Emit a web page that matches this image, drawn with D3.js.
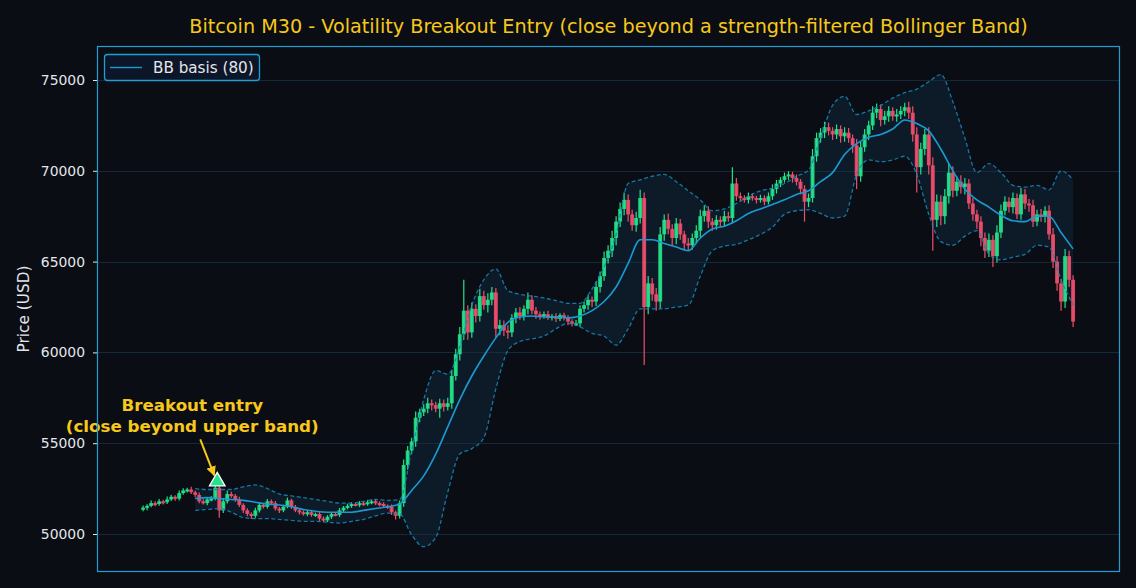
<!DOCTYPE html>
<html><head><meta charset="utf-8">
<script src="https://cdn.jsdelivr.net/npm/d3@7"></script>
<style>html,body{margin:0;padding:0;background:#0a0d14;} svg{display:block;}</style>
</head><body><svg id="c" width="1136" height="588"></svg>
<script>
// ---- DATA ----
const firstOpen = 51350;
const closes = [
51450,51550,51700,51650,51800,51750,51900,52050,51950,52250,
52400,52450,52300,52150,51800,51700,51900,51950,52550,51300,
51800,52200,52100,51900,51600,51300,51100,51000,51300,51600,
51500,51800,51700,51400,51300,51500,51850,51500,51300,51200,
51100,51200,51050,51100,50850,50750,50950,51100,51050,51300,
51450,51550,51650,51600,51700,51650,51750,51800,51700,51650,
51550,51500,51200,51000,51700,53800,54600,55100,56400,56700,
56900,57200,57100,56900,57200,57000,57200,58700,59900,61000,
62300,61100,62400,62000,63100,62600,62900,63300,61300,61500,
61200,61100,61900,62200,62000,62400,62900,62300,62100,62000,
62100,61900,62000,61850,62050,61900,61700,61600,61600,62400,
62600,62900,62800,63600,64200,65200,65600,66300,67200,67900,
68400,67600,67000,67400,68500,62500,63800,63200,62800,66500,
67300,66800,66300,67100,66500,66000,65900,66300,66700,67500,
67800,67200,67000,67300,67200,67500,67400,69300,68600,68500,
68400,68600,68500,68400,68500,68300,68600,69000,69300,69500,
69700,69800,69600,69400,69000,68300,68500,70800,71800,72100,
72400,72200,72000,72300,71900,72100,71800,71400,69700,71300,
72000,72500,73200,73400,72800,73000,73300,73000,73100,73300,
73500,73200,72000,70200,71200,72000,70300,67300,68300,67500,
68600,69900,68900,69400,69100,69300,68200,67600,67200,66300,
65600,66200,65300,66600,67800,68300,68000,68500,67600,68700,
68200,68100,67200,67600,67500,67800,66500,65000,63800,62800,
65300,64000,61700];
const wickUp = [
120,90,150,100,130,80,160,110,90,140,
120,100,150,90,130,110,80,140,200,150,
180,200,120,100,150,90,120,100,140,110,
90,130,100,120,80,110,150,90,100,120,
110,90,130,80,100,120,90,110,100,130,
90,120,100,80,110,90,130,100,120,90,
100,80,120,100,150,300,250,200,350,200,
250,300,200,180,250,200,300,350,300,400,
1700,300,350,250,400,300,350,300,250,300,
250,300,200,250,300,200,400,250,200,150,
150,200,120,150,100,130,150,120,180,200,
200,250,180,300,250,350,300,400,300,350,
400,300,250,350,450,300,400,300,350,400,
300,350,250,300,250,200,300,250,300,350,
300,250,200,250,200,300,250,900,300,200,
150,200,150,120,180,150,200,250,200,150,
200,180,150,200,150,200,250,400,300,250,
300,250,200,250,200,300,250,200,350,300,
300,250,350,300,250,300,250,200,300,250,
250,300,350,400,350,300,400,450,400,350,
400,500,350,300,350,300,250,300,250,300,
300,350,250,400,350,300,250,300,250,350,
300,250,300,250,300,250,300,350,300,250,
400,300,250];
const wickDn = [
100,140,80,120,90,130,100,80,120,100,
90,120,100,130,110,80,120,100,90,400,
150,120,100,130,110,150,120,180,100,120,
100,90,120,110,150,100,80,120,100,130,
90,120,100,110,130,100,90,120,80,110,
100,90,110,80,120,100,90,110,100,120,
100,120,150,200,150,200,250,200,300,250,
200,250,300,200,500,250,200,300,250,350,
300,400,300,350,300,250,400,300,500,350,
300,350,250,300,200,250,300,200,250,200,
150,120,150,180,120,150,200,180,150,200,
200,250,300,250,300,250,300,350,400,300,
350,400,300,350,300,3200,400,350,500,400,
350,300,400,350,300,350,300,250,300,350,
300,350,300,250,300,250,200,300,250,200,
150,200,150,200,150,200,150,200,250,200,
150,200,250,200,300,1100,300,250,300,250,
300,250,300,250,350,300,250,400,700,300,
250,300,250,300,350,250,300,250,300,250,
300,350,400,1400,400,350,500,1700,400,500,
450,400,350,300,350,400,300,350,400,450,
400,350,600,350,300,250,300,350,250,300,
300,350,300,250,300,350,300,350,400,500,
350,400,300];
const bandIdx = d3.range(13, 233, 3);
const basis = [
51950,52000,51950,51900,51850,51750,51650,51600,51500,51350,
51250,51200,51200,51200,51300,51400,51500,51650,52400,53200,
54400,55900,57400,58700,59800,60800,61650,61950,62000,61950,
61950,61900,62000,62300,62800,63600,64900,66200,66200,66000,
65800,65600,66300,66800,66950,67250,67650,67900,68150,68400,
68700,68900,69400,69900,70900,71500,71850,72000,72300,72800,
72600,72200,71200,70000,69000,68400,68000,67550,67250,67200,
67500,67500,66600,65700];
const upper = [
52500,52450,52450,52450,52600,52700,52500,52200,52100,52000,
51900,51800,51700,51700,51800,51900,51850,51900,54600,57400,
59000,58800,60300,62600,64000,64600,63400,63200,63100,63000,
62850,62700,62700,63500,64700,66500,69300,69500,69700,69800,
69400,68900,68400,67800,67900,68200,68600,68900,69050,69300,
69700,70050,71800,73600,74100,73100,73300,73600,74000,74300,
74500,74900,75300,73800,71800,69900,70400,69900,69200,69100,
69200,68950,70000,69500];
const lower = [
51300,51350,51400,51200,50900,50850,50850,50800,50750,50700,
50700,50650,50600,50700,50800,51000,51150,51100,49950,49300,
49800,52300,54400,54700,55300,58000,60100,60600,60750,60900,
61300,61600,61400,61050,60900,60400,61300,62400,62400,62400,
62500,62600,64200,65600,65850,65950,66200,66500,66900,67600,
67800,67850,67650,67400,67500,69800,70600,70500,70600,70800,
69800,67600,66100,65900,66400,66700,65400,65100,65250,65400,
65900,65800,64000,62600];
const yTicks = [50000,55000,60000,65000,70000,75000];
const entryIndex = 18, entryPrice = 52900;
const titleText = "Bitcoin M30 - Volatility Breakout Entry (close beyond a strength-filtered Bollinger Band)";
const legendLabel = "BB basis (80)";
const annotLines = ["Breakout entry", "(close beyond upper band)"];

// ---- LAYOUT ----
const W = 1136, H = 588;
const plot = {l: 97, r: 1120, t: 46, b: 572};
const FONT = "'DejaVu Sans', sans-serif";
const C = {bg:"#0a0d14", frame:"#1e9fd4", grid:"#16293b", text:"#e4e6ea", gold:"#f7c81a",
           up:"#22e38a", down:"#ef4f6c", basis:"#1b9ad2", band:"#1682b3", fill:"#12304a"};

const svg = d3.select("#c");
svg.append("rect").attr("width", W).attr("height", H).attr("fill", C.bg);

const x = d3.scaleLinear().domain([-11.5, 243.7]).range([plot.l, plot.r]);
const y = d3.scaleLinear().domain([47907, 76872]).range([plot.b, plot.t]);

const opens = closes.map((c, i) => i === 0 ? firstOpen : closes[i-1]);
const candles = closes.map((c, i) => ({
  i, o: opens[i], c,
  h: Math.max(opens[i], c) + wickUp[i],
  l: Math.min(opens[i], c) - wickDn[i]
}));

const g = svg.append("g");
g.append("rect").attr("x", plot.l).attr("y", plot.t)
  .attr("width", plot.r - plot.l).attr("height", plot.b - plot.t).attr("fill", C.bg);

// grid
g.selectAll(".grid").data(yTicks).join("line")
  .attr("x1", plot.l).attr("x2", plot.r)
  .attr("y1", d => Math.round(y(d)) + 0.5).attr("y2", d => Math.round(y(d)) + 0.5)
  .attr("stroke", C.grid).attr("stroke-width", 1);

// bands
const bandData = bandIdx.map((idx, k) => ({idx, m: basis[k], u: upper[k], lo: lower[k]}));
const curve = d3.curveMonotoneX;
g.append("path").datum(bandData)
  .attr("d", d3.area().x(d => x(d.idx)).y0(d => y(d.lo)).y1(d => y(d.u)).curve(curve))
  .attr("fill", C.fill).attr("fill-opacity", 0.38);

// candles
const cg = g.append("g");
const bw = 3.9;
cg.selectAll("line").data(candles).join("line")
  .attr("x1", d => x(d.i)).attr("x2", d => x(d.i))
  .attr("y1", d => y(d.h)).attr("y2", d => y(d.l))
  .attr("stroke", d => d.c >= d.o ? C.up : C.down).attr("stroke-width", 1.2);
cg.selectAll("rect").data(candles).join("rect")
  .attr("x", d => x(d.i) - bw/2).attr("width", bw)
  .attr("y", d => y(Math.max(d.o, d.c)))
  .attr("height", d => Math.max(2, Math.abs(y(d.o) - y(d.c))))
  .attr("fill", d => d.c >= d.o ? C.up : C.down).attr("fill-opacity", 0.9);

// band lines
["u", "lo"].forEach(k => {
  g.append("path").datum(bandData)
    .attr("d", d3.line().x(d => x(d.idx)).y(d => y(d[k])).curve(curve))
    .attr("fill", "none").attr("stroke", C.band).attr("stroke-width", 1.3)
    .attr("stroke-dasharray", "4,2.5").attr("stroke-opacity", 0.9);
});
g.append("path").datum(bandData)
  .attr("d", d3.line().x(d => x(d.idx)).y(d => y(d.m)).curve(curve))
  .attr("fill", "none").attr("stroke", C.basis).attr("stroke-width", 1.6);

// entry marker
const ex = x(entryIndex) + 2, ey = y(entryPrice);
g.append("path").attr("d", d3.symbol(d3.symbolTriangle, 105)())
  .attr("transform", `translate(${ex},${ey})`)
  .attr("fill", C.up).attr("stroke", "#ffffff").attr("stroke-width", 1.3);

// annotation
const defs = svg.append("defs");
defs.append("marker").attr("id", "ah").attr("viewBox", "0 0 10 10")
  .attr("refX", 9).attr("refY", 5).attr("markerWidth", 5).attr("markerHeight", 5)
  .attr("orient", "auto").append("path").attr("d", "M0,0 L10,5 L0,10 z").attr("fill", C.gold);
g.append("line").attr("x1", ex - 17).attr("y1", ey - 42).attr("x2", ex - 3).attr("y2", ey - 6)
  .attr("stroke", C.gold).attr("stroke-width", 2).attr("marker-end", "url(#ah)");
const at = g.append("text").attr("text-anchor", "middle")
  .attr("font-family", FONT).attr("font-weight", "bold")
  .attr("font-size", 16.7).attr("fill", C.gold);
annotLines.forEach((t, k) => at.append("tspan").attr("x", ex - 25).attr("y", ey - 70 + k * 21).text(t));

// frame
g.append("rect").attr("x", plot.l + 0.5).attr("y", plot.t + 0.5)
  .attr("width", plot.r - plot.l - 1).attr("height", plot.b - plot.t - 1)
  .attr("fill", "none").attr("stroke", C.frame).attr("stroke-width", 1.2);

// y axis
const ya = svg.append("g").attr("transform", `translate(${plot.l},0)`)
  .call(d3.axisLeft(y).tickValues(yTicks).tickFormat(d3.format("d")).tickSize(4).tickPadding(8));
ya.select(".domain").remove();
ya.selectAll("line").attr("stroke", C.text);
ya.selectAll("text").attr("fill", C.text).attr("font-family", FONT).attr("font-size", 13.9);

svg.append("text").attr("transform", `translate(29,${(plot.t+plot.b)/2}) rotate(-90)`)
  .attr("text-anchor", "middle").attr("font-family", FONT)
  .attr("font-size", 15.3).attr("fill", C.text).text("Price (USD)");

// title
svg.append("text").attr("x", (plot.l + plot.r)/2).attr("y", 33).attr("text-anchor", "middle")
  .attr("font-family", FONT).attr("font-size", 19.2).attr("fill", C.gold)
  .text(titleText);

// legend
const lg = svg.append("g");
lg.append("rect").attr("x", 104.5).attr("y", 54.5).attr("width", 155).attr("height", 26).attr("rx", 3)
  .attr("fill", "#0d1628").attr("stroke", C.frame).attr("stroke-width", 1.3);
lg.append("line").attr("x1", 110).attr("x2", 142).attr("y1", 67.5).attr("y2", 67.5)
  .attr("stroke", C.basis).attr("stroke-width", 1.4);
lg.append("text").attr("x", 153).attr("y", 73).attr("font-family", FONT)
  .attr("font-size", 15.2).attr("fill", C.text).text(legendLabel);
</script></body></html>
